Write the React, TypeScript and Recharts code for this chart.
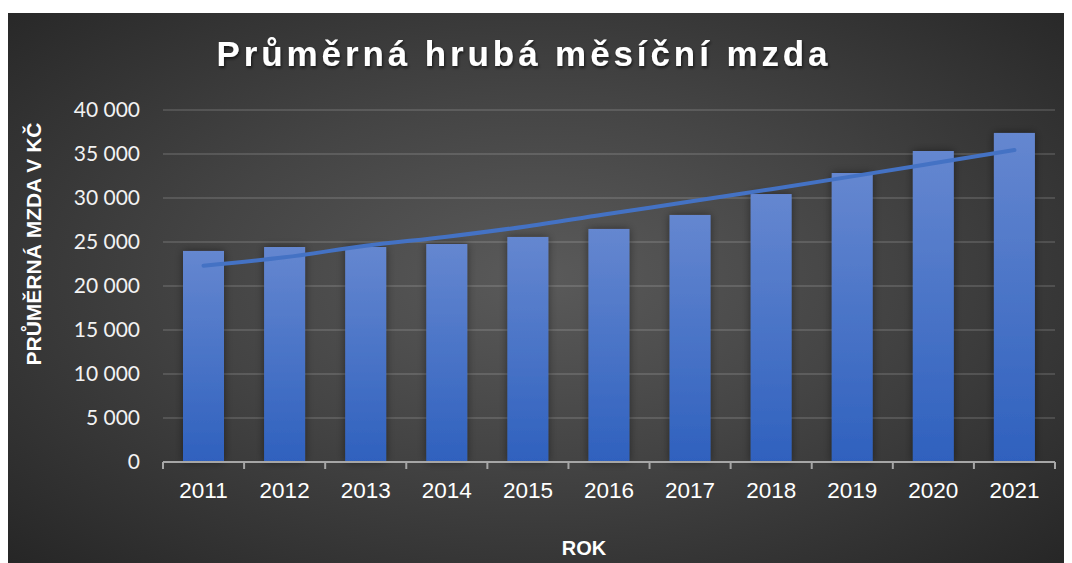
import {
    Bar,
    CartesianGrid,
    ComposedChart,
    Line,
    XAxis,
    YAxis,
} from 'recharts'

const years = ['2011', '2012', '2013', '2014', '2015', '2016', '2017', '2018', '2019', '2020', '2021']
const wages = [23980, 24430, 24430, 24770, 25570, 26480, 28070, 30450, 32840, 35340, 37390]
const trend = [22300, 23260, 24570, 25600, 26800, 28200, 29600, 31000, 32460, 33950, 35450]
const yTicks = [0, 5000, 10000, 15000, 20000, 25000, 30000, 35000, 40000]

const W = 1064
const H = 550

const data = years.map((year, i) => ({ year, wage: wages[i], trend: trend[i] }))

const fmt = (v: number) => String(v).replace(/\B(?=(\d{3})+(?!\d))/g, ' ')

function YTick(props: any) {
    const { x, y, payload } = props
    return (
        <text x={x} y={y} dy="0.35em" textAnchor="end" fill="#f2f2f2"
            style={{ fontFamily: 'Lato, sans-serif', fontSize: 21 }}>
            {fmt(payload.value)}
        </text>
    )
}

function XTick(props: any) {
    const { x, y, payload, index } = props
    const off = payload.offset ?? 40.5
    const axisY = y - 20
    return (
        <g>
            <line x1={x - off} x2={x - off} y1={axisY} y2={axisY + 7} stroke="#a6a6a6" strokeWidth={2} />
            {index === years.length - 1 && (
                <line x1={x + off} x2={x + off} y1={axisY} y2={axisY + 7} stroke="#a6a6a6" strokeWidth={2} />
            )}
            <text x={x} y={y} dy="0.71em" textAnchor="middle" fill="#ffffff"
                style={{ fontFamily: '"Liberation Sans", Arial, sans-serif', fontSize: 22.5 }}>
                {payload.value}
            </text>
        </g>
    )
}

function ShadowBar(props: any) {
    const { x, y, width, height } = props
    return <rect x={x} y={y} width={width} height={height} fill="url(#barFill)" filter="url(#barShadow)" />
}

export default function App() {
    return (
        <div
            style={{
                position: 'relative',
                width: W,
                height: H,
                marginTop: 5,
                background: 'radial-gradient(ellipse at 50% 48%, #5a5a5a 0%, #444 45%, #262626 100%)',
            }}
        >
            <ComposedChart width={W} height={H} data={data}
                margin={{ top: 97, right: 17, left: 0, bottom: 0 }}>
                <defs>
                    <linearGradient id="barFill" x1="0" y1="0" x2="0" y2="1">
                        <stop offset="0%" stopColor="#6587d0" />
                        <stop offset="100%" stopColor="#2f61be" />
                    </linearGradient>
                    <filter id="barShadow" x="-40%" y="-10%" width="180%" height="120%">
                        <feDropShadow dx="0" dy="0" stdDeviation="4" floodColor="#000" floodOpacity="0.45" />
                    </filter>
                </defs>
                <CartesianGrid vertical={false} stroke="rgba(255,255,255,0.13)" strokeWidth={2} />
                <XAxis
                    dataKey="year"
                    height={101}
                    tickLine={false}
                    tickSize={0}
                    tickMargin={20}
                    axisLine={{ stroke: '#a6a6a6', strokeWidth: 2 }}
                    tick={<XTick />}
                    interval={0}
                />
                <YAxis
                    width={155}
                    domain={[0, 40000]}
                    ticks={yTicks}
                    axisLine={false}
                    tickLine={false}
                    tickSize={0}
                    tickMargin={23}
                    tick={<YTick />}
                    interval={0}
                />
                <Bar dataKey="wage" barSize={41} shape={<ShadowBar />} isAnimationActive={false} />
                <Line
                    dataKey="trend"
                    type="monotone"
                    stroke="#4472c4"
                    strokeWidth={4}
                    strokeLinecap="round"
                    dot={false}
                    activeDot={false}
                    isAnimationActive={false}
                />
            </ComposedChart>
            <svg width={W} height={H} style={{ position: 'absolute', left: 0, top: 0, pointerEvents: 'none' }}>
                <defs>
                    <filter id="titleShadow" x="-5%" y="-20%" width="110%" height="150%">
                        <feDropShadow dx="1" dy="2" stdDeviation="1.5" floodColor="#000" floodOpacity="0.6" />
                    </filter>
                </defs>
                <text x={516} y={53} textAnchor="middle" fill="#ffffff" filter="url(#titleShadow)"
                    style={{ fontFamily: '"Liberation Sans", Arial, sans-serif', fontSize: 35, fontWeight: 700, letterSpacing: 3.9 }}>
                    Průměrná hrubá měsíční mzda
                </text>
                <text x={33} y={231} textAnchor="middle" fill="#ffffff" transform="rotate(-90 33 231)"
                    style={{ fontFamily: '"Liberation Sans", Arial, sans-serif', fontSize: 21, fontWeight: 700 }}>
                    PRŮMĚRNÁ MZDA V KČ
                </text>
                <text x={576} y={542} textAnchor="middle" fill="#ffffff"
                    style={{ fontFamily: '"Liberation Sans", Arial, sans-serif', fontSize: 20, fontWeight: 700 }}>
                    ROK
                </text>
            </svg>
        </div>
    )
}
